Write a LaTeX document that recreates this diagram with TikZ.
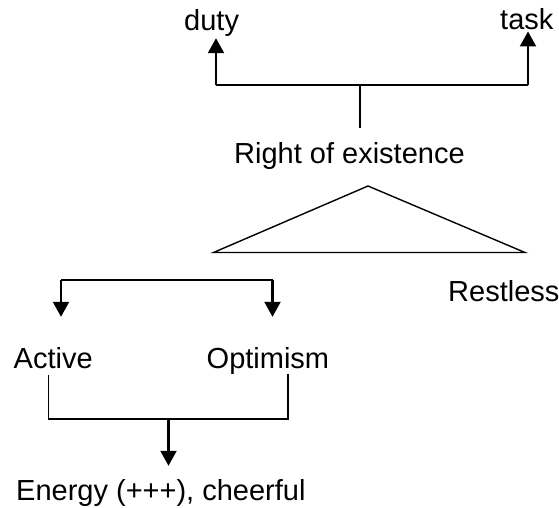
\documentclass[tikz,border=0pt]{standalone}
\usepackage{fontspec}
\setmainfont{Liberation Sans}
\usetikzlibrary{arrows.meta}
\begin{document}
\begin{tikzpicture}[x=1pt,y=-1pt,
  lbl/.style={anchor=base west,inner sep=0pt,font=\fontsize{29}{34}\selectfont},
  thickline/.style={line width=2.2pt,line cap=butt,line join=miter},
  thinline/.style={line width=1.4pt},
  arr/.style={thickline,-{Triangle[length=15pt,width=16pt]}}]
\useasboundingbox (0,0) rectangle (559,508);
% text nodes
\node[lbl] (duty) at (184,31) {duty};
\node[lbl] (task) at (500,30) {task};
\node[lbl] (right) at (234,163) {Right of existence};
\node[lbl] (restless) at (448,301) {Restless};
\node[lbl] (active) at (13.5,368) {Active};
\node[lbl] (optimism) at (206.5,368) {Optimism};
\node[lbl] (energy) at (16,500) {Energy (+++), cheerful};
% top bracket
\coordinate (jt) at (360,85);
\coordinate (jd) at (216,85);
\coordinate (jk) at (528,85);
\draw[thinline,shorten <=14pt] (right.north -| jt) -- (jt);
\draw[thickline] (jd) -- (jk);
\draw[arr,shorten >=1pt] (jd) -- (jd |- duty.south);
\draw[arr,shorten >=1pt] (jk) -- (jk |- task.south);
% triangle
\coordinate (ta) at (368,186);
\coordinate (tl) at (213.5,252.5);
\coordinate (tr) at (525,252.5);
\draw[thinline,line join=miter] (ta) -- (tl) -- (tr) -- cycle;
% middle bracket
\coordinate (ka) at (61,280);
\coordinate (ko) at (272.5,280);
\draw[thickline] (ka) -- (ko);
\draw[arr,shorten >=30pt] (ka) -- (ka |- active.north);
\draw[arr,shorten >=30pt] (ko) -- (ko |- optimism.north);
% bottom bracket
\coordinate (la) at (48.5,375);
\coordinate (lo) at (288,375);
\coordinate (jb) at (168.5,419);
\draw[thinline] (la |- active.base) ++(0,7) |- (jb) -| (lo |- optimism.south);
\draw[arr,shorten >=13pt] (jb) -- (jb |- energy.north);
\end{tikzpicture}
\end{document}
